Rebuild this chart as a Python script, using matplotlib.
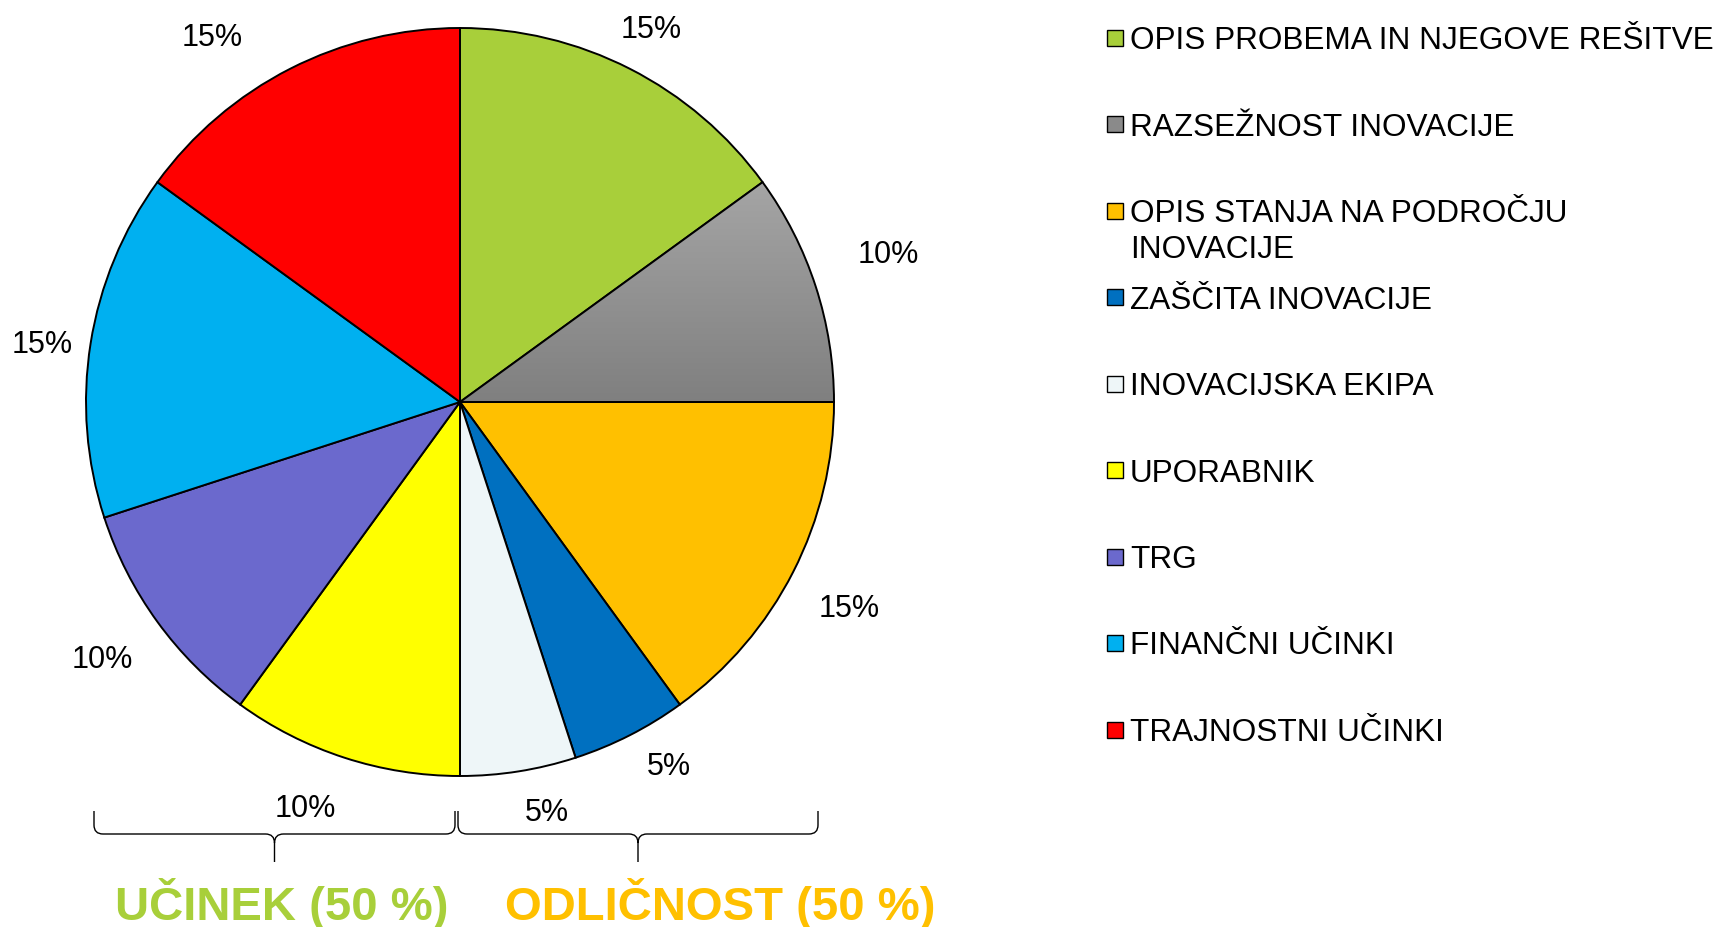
import numpy as np
import matplotlib.pyplot as plt
from matplotlib.path import Path
from matplotlib.patches import PathPatch, Rectangle

plt.rcParams['font.family'] = ['Liberation Sans', 'DejaVu Sans']

# podatki
labels = ['OPIS PROBEMA IN NJEGOVE REŠITVE', 'RAZSEŽNOST INOVACIJE',
          'OPIS STANJA NA PODROČJU\nINOVACIJE', 'ZAŠČITA INOVACIJE',
          'INOVACIJSKA EKIPA', 'UPORABNIK', 'TRG', 'FINANČNI UČINKI',
          'TRAJNOSTNI UČINKI']
shares = [15, 10, 15, 5, 5, 10, 10, 15, 15]
colors = ['#A8CF3A', '#959595', '#FFC000', '#0070C0', '#EEF6F8',
          '#FFFF00', '#6B69CD', '#00B0F0', '#FF0000']
groups = ['UČINEK (50 %)', 'ODLIČNOST (50 %)']
group_colors = ['#A8CF3A', '#FFC000']

# postavitev oznak odstotkov (razdalja v polmerih, zamik kota v stopinjah)
label_r = [1.126, 1.214, 1.174, 1.115, 1.115, 1.155, 1.174, 1.128, 1.184]
label_dang = [0, 1.3, -0.6, 3, 3, -3, -0.6, 0.8, 7]

W, H = 1726, 927


def fy(y):
    # slikovne koordinate (od zgoraj) -> podatkovne
    return H - y


fig = plt.figure(figsize=(W / 100, H / 100), dpi=100)
ax = fig.add_axes([0, 0, 1, 1])

cx, cy, R = 460, 402, 374
wedges, _, pcts = ax.pie(shares, colors=colors, startangle=90, counterclock=False,
                         center=(cx, fy(cy)), radius=R,
                         autopct=lambda p: f'{p:.0f}%', pctdistance=1.15,
                         wedgeprops=dict(edgecolor='black', linewidth=1.4),
                         textprops=dict(fontsize=22, color='black'))
ax.set_xlim(0, W)
ax.set_ylim(0, H)
ax.set_aspect('equal')
ax.axis('off')

for w, t, rr, da in zip(wedges, pcts, label_r, label_dang):
    ang = np.deg2rad((w.theta1 + w.theta2) / 2 + da)
    t.set_position((cx + rr * R * np.cos(ang), fy(cy) + rr * R * np.sin(ang)))
    t.set_va('center_baseline')

# sivi izsek z gradientom
grad = np.linspace(0.65, 0.50, 256).reshape(-1, 1)
img = ax.imshow(np.dstack([grad, grad, grad]), extent=(cx, cx + R, fy(cy), fy(cy - R * 0.6)),
                aspect='auto', zorder=wedges[1].get_zorder() + 0.1, origin='upper')
img.set_clip_path(wedges[1])
wedges[1].set_facecolor('none')
wedges[1].set_zorder(wedges[1].get_zorder() + 0.2)

# legenda
lx, ly0, pitch = 1115, 37.5, 86.5
for i, (lab, col) in enumerate(zip(labels, colors)):
    y = ly0 + i * pitch
    ax.add_patch(Rectangle((lx - 8, fy(y) - 8), 16, 16, facecolor=col if i != 1 else '#8a8a8a',
                           edgecolor='black', linewidth=1.0))
    for j, line in enumerate(lab.split('\n')):
        ax.text(lx + 15, fy(y + j * 35.5), line, fontsize=22.7,
                va='center_baseline', ha='left')


def brace(x0, x1, ytop, ymid, ytip, r=9):
    xm = (x0 + x1) / 2
    pts = [(x0, ytop), (x0, ymid - r), (x0, ymid), (x0 + r, ymid),
           (xm - r, ymid), (xm, ymid), (xm, ymid + r), (xm, ytip),
           (xm, ymid + r), (xm, ymid), (xm + r, ymid),
           (x1 - r, ymid), (x1, ymid), (x1, ymid - r), (x1, ytop)]
    codes = [Path.MOVETO, Path.LINETO, Path.CURVE3, Path.CURVE3,
             Path.LINETO, Path.CURVE3, Path.CURVE3, Path.LINETO,
             Path.MOVETO, Path.CURVE3, Path.CURVE3,
             Path.LINETO, Path.CURVE3, Path.CURVE3, Path.LINETO]
    verts = [(x, fy(y)) for x, y in pts]
    ax.add_patch(PathPatch(Path(verts, codes), facecolor='none', edgecolor='black', linewidth=1.0))


brace(94, 455, 811, 834, 862)
brace(458, 818, 811, 834, 862)

for x, txt, col in zip([282, 720], groups, group_colors):
    ax.text(x, fy(920), txt, fontsize=34, fontweight='bold', color=col,
            ha='center', va='baseline')

fig.savefig('out.png', dpi=100)
